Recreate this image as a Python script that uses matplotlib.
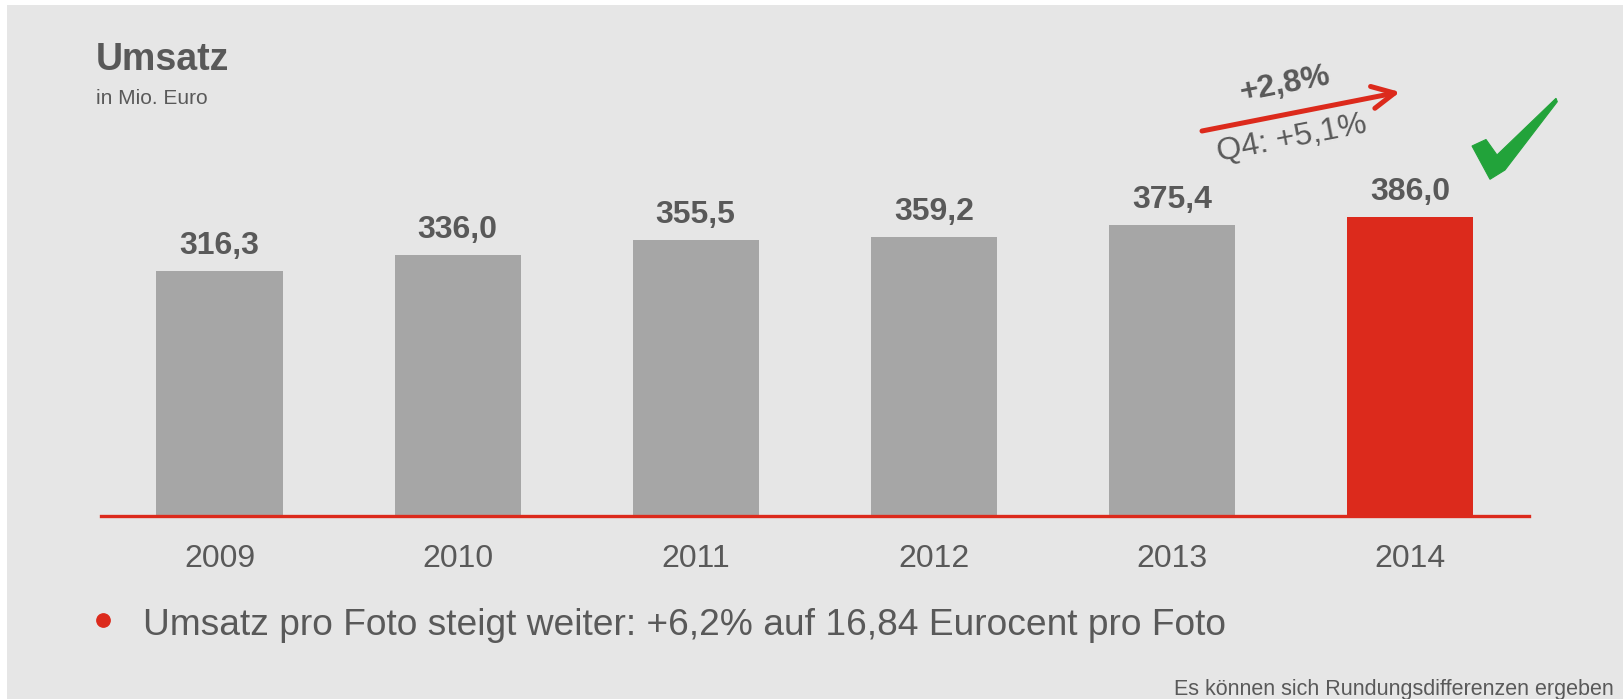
import matplotlib
matplotlib.use("Agg")
import matplotlib.pyplot as plt
from matplotlib.patches import Rectangle, Polygon, FancyArrowPatch, ArrowStyle
from matplotlib.lines import Line2D

# ---- data ----
years = ["2009", "2010", "2011", "2012", "2013", "2014"]
umsatz = [316.3, 336.0, 355.5, 359.2, 375.4, 386.0]
value_labels = ["316,3", "336,0", "355,5", "359,2", "375,4", "386,0"]
title = "Umsatz"
subtitle = "in Mio. Euro"
growth_label = "+2,8%"
q4_label = "Q4: +5,1%"
bullet_text = "Umsatz pro Foto steigt weiter: +6,2% auf 16,84 Eurocent pro Foto"
footnote = "Es können sich Rundungsdifferenzen ergeben"

# ---- style ----
W, H = 1623, 699
BG = "#e6e6e6"
GREY_BAR = "#a6a6a6"
RED = "#dc2a1c"
TEXT = "#595959"
GREEN = "#22a33a"
plt.rcParams["font.family"] = ["Liberation Sans", "DejaVu Sans"]

fig = plt.figure(figsize=(W / 100, H / 100), dpi=100)
fig.patch.set_facecolor("white")

def fx(px):
    return px / W

def fy(py):
    return 1 - py / H

# grey panel
fig.add_artist(Rectangle((fx(7), 0), 1 - fx(7), fy(5), transform=fig.transFigure,
                         facecolor=BG, edgecolor="none", zorder=-10))

ax = fig.add_axes([fx(100.5), fy(515.5), fx(1529) - fx(100.5), 348.3 / H])
ax.set_facecolor("none")
x = list(range(len(years)))
colors = [GREY_BAR] * (len(years) - 1) + [RED]
ax.bar(x, umsatz, width=0.53, color=colors, zorder=2)
ax.set_xlim(-0.5, len(years) - 0.5)
ax.set_ylim(0, 450)
for s in ["top", "right", "left"]:
    ax.spines[s].set_visible(False)
ax.spines["bottom"].set_color(RED)
ax.spines["bottom"].set_linewidth(2.4)
ax.spines["bottom"].set_zorder(3)
ax.set_yticks([])
ax.set_xticks(x)
ax.set_xticklabels(years, fontsize=23, color=TEXT)
ax.tick_params(axis="x", length=0, pad=31)
for lab in ax.get_xticklabels():
    lab.set_va("center")

for xi, v, lab in zip(x, umsatz, value_labels):
    ax.annotate(lab, (xi, v), xytext=(0, 25), textcoords="offset pixels",
                ha="center", va="center", fontsize=23, fontweight="bold", color=TEXT)

# title
fig.text(fx(96), fy(69.5), title, fontsize=27, fontweight="bold", color=TEXT,
         ha="left", va="baseline")
fig.text(fx(96), fy(103.5), subtitle, fontsize=15, color=TEXT, ha="left", va="baseline")

# growth arrow
arr = FancyArrowPatch((fx(1202), fy(131)), (fx(1400), fy(92)), transform=fig.transFigure,
                      arrowstyle=ArrowStyle("->", head_length=16, head_width=8),
                      mutation_scale=1, color=RED, lw=3.6, shrinkA=0, shrinkB=0)
fig.add_artist(arr)
fig.text(fx(1285), fy(84), growth_label, fontsize=23, fontweight="bold", color=TEXT,
         ha="center", va="center", rotation=11, rotation_mode="anchor")
fig.text(fx(1292), fy(139), q4_label, fontsize=23, color=TEXT,
         ha="center", va="center", rotation=11, rotation_mode="anchor")

# check mark
check_px = [(1472, 146), (1486, 139.5), (1497, 155), (1556, 98.3),
            (1557.3, 101.7), (1505, 170), (1490, 179.3)]
fig.add_artist(Polygon([(fx(a), fy(b)) for a, b in check_px], closed=True,
                       transform=fig.transFigure, facecolor=GREEN, edgecolor=GREEN, lw=0.8))

# bullet
fig.add_artist(Line2D([fx(102.7)], [fy(619.5)], marker="o", markersize=9.6,
                      color=RED, transform=fig.transFigure))
fig.text(fx(142.7), fy(635), bullet_text, fontsize=26.7, color=TEXT,
         ha="left", va="baseline")

fig.text(fx(1613.5), fy(695), footnote, fontsize=15.5, color=TEXT,
         ha="right", va="baseline")

fig.savefig("out.png", dpi=100, facecolor=fig.get_facecolor())
